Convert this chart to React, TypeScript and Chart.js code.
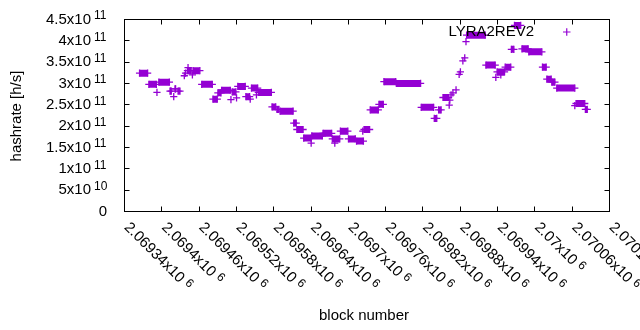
import React, { useEffect, useRef } from "react";
import { Chart, registerables } from "chart.js";
Chart.register(...registerables);

// Runs of consecutive blocks with equal hashrate (start block, end block, hashrate in h/s)
const runStart = [
  2069365, 2069380, 2069393, 2069396, 2069414, 2069420, 2069422, 2069427, 2069437, 2069439,
  2069442, 2069443, 2069450, 2069451, 2069465, 2069483, 2069491, 2069497, 2069512, 2069514,
  2069521, 2069523, 2069536, 2069543, 2069545, 2069553, 2069556, 2069578, 2069586, 2069591,
  2069613, 2069618, 2069629, 2069641, 2069642, 2069660, 2069675, 2069679, 2069688, 2069701,
  2069714, 2069724, 2069726, 2069736, 2069750, 2069758, 2069778, 2069818, 2069839, 2069846,
  2069853, 2069863, 2069864, 2069866, 2069869, 2069874, 2069879, 2069881, 2069885, 2069888,
  2069890, 2069891, 2069922, 2069938, 2069940, 2069946, 2069953, 2069963, 2069968, 2069980,
  2069991, 2070013, 2070020, 2070028, 2070036, 2070065, 2070067, 2070082,
];
const runEnd = [
  2069378, 2069392, 2069393, 2069413, 2069416, 2069420, 2069423, 2069430, 2069437, 2069439,
  2069448, 2069443, 2069450, 2069462, 2069482, 2069490, 2069496, 2069511, 2069512, 2069520,
  2069521, 2069535, 2069542, 2069543, 2069555, 2069553, 2069577, 2069584, 2069589, 2069612,
  2069617, 2069628, 2069641, 2069641, 2069659, 2069674, 2069687, 2069679, 2069700, 2069712,
  2069725, 2069724, 2069735, 2069749, 2069757, 2069777, 2069817, 2069838, 2069843, 2069850,
  2069862, 2069863, 2069864, 2069866, 2069869, 2069874, 2069879, 2069881, 2069885, 2069888,
  2069890, 2069921, 2069937, 2069938, 2069952, 2069946, 2069962, 2069967, 2069978, 2069990,
  2070012, 2070019, 2070027, 2070033, 2070065, 2070065, 2070081, 2070085,
];
const runHashrateGH = [
  323, 297, 278, 302, 281, 268, 286, 281, 317, 323,
  329, 336, 319, 329, 297, 262, 277, 283, 261, 279,
  265, 292, 268, 262, 288, 272, 278, 244, 238, 234,
  206, 191, 171, 159, 176, 182, 169, 159, 187, 169,
  164, 187, 191, 237, 250, 303, 299, 243, 217, 237,
  266, 248, 260, 272, 277, 284, 320, 326, 352, 359,
  397, 412, 342, 313, 326, 319, 337, 379, 435, 380,
  373, 337, 309, 302, 288, 247, 252, 238,
];

const seriesLabel = "LYRA2REV2";
const xTitle = "block number";
const yTitle = "hashrate [h/s]";

const xTicks = [
  2069340, 2069400, 2069460, 2069520, 2069580, 2069640, 2069700,
  2069760, 2069820, 2069880, 2069940, 2070000, 2070060, 2070120,
];
const xTickMantissa = [
  "2.06934", "2.0694", "2.06946", "2.06952", "2.06958", "2.06964", "2.0697",
  "2.06976", "2.06982", "2.06988", "2.06994", "2.07", "2.07006", "2.07012",
];
const xTickExponent = "6";

const yTicks = [0, 5e10, 1e11, 1.5e11, 2e11, 2.5e11, 3e11, 3.5e11, 4e11, 4.5e11];
const yTickMantissa = ["0", "5", "1", "1.5", "2", "2.5", "3", "3.5", "4", "4.5"];
const yTickExponent = ["", "10", "11", "11", "11", "11", "11", "11", "11", "11"];

const COLOR = "#9400d3";
const FONT = "'Liberation Sans', Arial, sans-serif";

const decorPlugin = {
  id: "gnuplotDecor",
  afterDraw(chart: any) {
    const ctx: CanvasRenderingContext2D = chart.ctx;
    const { left, right, top, bottom } = chart.chartArea;
    const xs = chart.scales.x;
    const ys = chart.scales.y;
    ctx.save();
    ctx.strokeStyle = "#000";
    ctx.lineWidth = 1;
    // frame
    ctx.strokeRect(left + 0.5, top + 0.5, right - left, bottom - top);
    // ticks (inward, mirrored)
    const tl = 5;
    ctx.beginPath();
    xTicks.forEach((t) => {
      const px = Math.round(xs.getPixelForValue(t)) + 0.5;
      ctx.moveTo(px, bottom + 0.5);
      ctx.lineTo(px, bottom + 0.5 - tl);
      ctx.moveTo(px, top + 0.5);
      ctx.lineTo(px, top + 0.5 + tl);
    });
    yTicks.forEach((t) => {
      const py = Math.round(ys.getPixelForValue(t)) + 0.5;
      ctx.moveTo(left + 0.5, py);
      ctx.lineTo(left + 0.5 + tl, py);
      ctx.moveTo(right + 0.5, py);
      ctx.lineTo(right + 0.5 - tl, py);
    });
    ctx.stroke();

    ctx.fillStyle = "#000";
    // y tick labels
    yTicks.forEach((t, i) => {
      const py = ys.getPixelForValue(t);
      ctx.textBaseline = "middle";
      if (!yTickExponent[i]) {
        ctx.font = `15px ${FONT}`;
        ctx.textAlign = "right";
        ctx.fillText(yTickMantissa[i], 107, py + 0.5);
      } else {
        ctx.font = `15px ${FONT}`;
        ctx.textAlign = "right";
        ctx.fillText(`${yTickMantissa[i]}x10`, 91, py + 0.5);
        ctx.font = `12px ${FONT}`;
        ctx.textAlign = "left";
        ctx.fillText(yTickExponent[i], 94, py - 3);
      }
    });

    // x tick labels, rotated -45 (clockwise)
    xTicks.forEach((t, i) => {
      const px = xs.getPixelForValue(t);
      ctx.save();
      ctx.translate(px + 2.5, bottom + 14);
      ctx.rotate(Math.PI / 4);
      ctx.textAlign = "left";
      ctx.textBaseline = "middle";
      ctx.font = `15px ${FONT}`;
      const main = `${xTickMantissa[i]}x10`;
      ctx.fillText(main, 0, 0);
      const w = ctx.measureText(main).width;
      ctx.font = `12px ${FONT}`;
      ctx.fillText(xTickExponent, w + 4, -3);
      ctx.restore();
    });

    // axis titles
    ctx.font = `15px ${FONT}`;
    ctx.textAlign = "center";
    ctx.textBaseline = "middle";
    ctx.fillText(xTitle, 364, 316);
    ctx.save();
    ctx.translate(17, 116);
    ctx.rotate(-Math.PI / 2);
    ctx.fillText(yTitle, 0, 0);
    ctx.restore();

    // key
    ctx.textAlign = "right";
    ctx.fillText(seriesLabel, 534, 32);
    ctx.strokeStyle = COLOR;
    ctx.lineWidth = 1.2;
    ctx.beginPath();
    ctx.moveTo(563, 32);
    ctx.lineTo(570.5, 32);
    ctx.moveTo(566.75, 28.25);
    ctx.lineTo(566.75, 35.75);
    ctx.stroke();
    ctx.restore();
  },
};

export default function App() {
  const ref = useRef<HTMLCanvasElement | null>(null);
  useEffect(() => {
    if (!ref.current) return;
    const data: { x: number; y: number | null }[] = [];
    runStart.forEach((s, i) => {
      const v = runHashrateGH[i] * 1e9;
      data.push({ x: s, y: v });
      if (runEnd[i] !== s) data.push({ x: runEnd[i], y: v });
      data.push({ x: runEnd[i], y: null });
    });
    const chart = new Chart(ref.current, {
      type: "line",
      data: {
        datasets: [
          {
            label: seriesLabel,
            data: data as any,
            borderColor: COLOR,
            backgroundColor: COLOR,
            borderWidth: 7,
            borderCapStyle: "butt",
            spanGaps: false,
            fill: false,
            tension: 0,
            pointStyle: "cross",
            pointRadius: 3.6,
            pointBorderWidth: 1.3,
            pointBorderColor: COLOR,
            pointBackgroundColor: COLOR,
          } as any,
        ],
      },
      options: {
        responsive: false,
        maintainAspectRatio: false,
        animation: false,
        layout: { padding: { left: 124, right: 31, top: 19, bottom: 119 } },
        plugins: { legend: { display: false }, tooltip: { enabled: false } },
        scales: {
          x: { type: "linear", display: false, min: 2069340, max: 2070120 },
          y: { type: "linear", display: false, min: 0, max: 4.5e11 },
        },
      },
      plugins: [decorPlugin],
    });
    return () => chart.destroy();
  }, []);
  return (
    <div style={{ position: "absolute", left: 0, top: 0, width: 640, height: 330, background: "#fff" }}>
      <canvas ref={ref} width={640} height={330} style={{ width: 640, height: 330, display: "block" }} />
    </div>
  );
}
